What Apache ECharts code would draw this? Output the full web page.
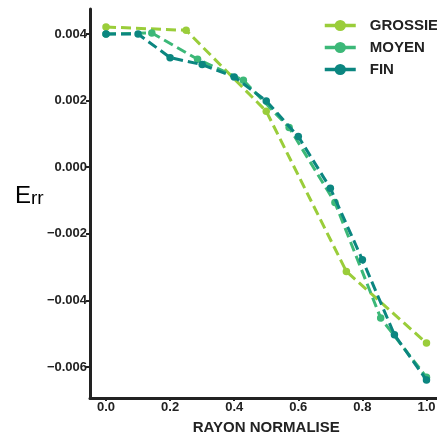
<!DOCTYPE html>
<html>
<head>
<meta charset="utf-8">
<script src="https://cdn.jsdelivr.net/npm/echarts@6/dist/echarts.min.js"></script>
<style>
html,body{margin:0;padding:0;background:#fff;}
#chart{width:437px;height:438px;}
</style>
</head>
<body>
<div id="chart"></div>
<script>
// ---- data ----
const seriesNames = ['GROSSIER', 'MOYEN', 'FIN'];
const xGrossier = [0, 0.25, 0.5, 0.75, 1.0];
const yGrossier = [0.00421, 0.00411, 0.00168, -0.00313, -0.00528];
const xMoyen = [0, 0.1429, 0.2857, 0.4286, 0.5714, 0.7143, 0.8571, 1.0];
const yMoyen = [0.00400, 0.00403, 0.00324, 0.00261, 0.00119, -0.00106, -0.00453, -0.00631];
const xFin = [0, 0.1, 0.2, 0.3, 0.4, 0.5, 0.6, 0.7, 0.8, 0.9, 1.0];
const yFin = [0.00400, 0.00400, 0.00329, 0.00308, 0.00271, 0.00199, 0.00092, -0.00063, -0.00278, -0.00503, -0.00639];
const xTicks = [0, 0.2, 0.4, 0.6, 0.8, 1.0];
const xTickLabels = ['0.0', '0.2', '0.4', '0.6', '0.8', '1.0'];
const yTicks = [-0.006, -0.004, -0.002, 0, 0.002, 0.004];
const yTickLabels = ['\u22120.006', '\u22120.004', '\u22120.002', '0.000', '0.002', '0.004'];
const xTitle = 'RAYON NORMALISE';
const yTitleMain = 'E';
const yTitleRest = 'rr';

const colors = ['#9acd3a', '#3cb878', '#0b8680'];
const pair = (xs, ys) => xs.map((x, i) => [x, ys[i]]);
const dataSets = [pair(xGrossier, yGrossier), pair(xMoyen, yMoyen), pair(xFin, yFin)];

const ink = '#222';
const chart = echarts.init(document.getElementById('chart'), null, {renderer: 'canvas'});
chart.setOption({
  animation: false,
  backgroundColor: '#fff',
  grid: {left: 90, top: 9, width: 352.5, height: 389, containLabel: false, outerBoundsMode: 'none'},
  xAxis: {
    type: 'value', min: -0.05, max: 1.05,
    name: xTitle, nameLocation: 'middle', nameGap: 22,
    nameTextStyle: {fontFamily: 'Liberation Sans', fontWeight: 'bold', fontSize: 15, color: ink},
    axisLine: {show: true, onZero: false, lineStyle: {color: ink, width: 3}},
    axisTick: {show: true, customValues: xTicks, length: 3, lineStyle: {color: ink, width: 2}},
    axisLabel: {customValues: xTicks, margin: 3, fontFamily: 'Liberation Sans', fontWeight: 'bold', fontSize: 13, color: ink,
      formatter: v => { const i = xTicks.findIndex(t => Math.abs(t - v) < 1e-9); return i >= 0 ? xTickLabels[i] : ''; }},
    splitLine: {show: false}
  },
  yAxis: {
    type: 'value', min: -0.00693, max: 0.00475,
    axisLine: {show: true, onZero: false, lineStyle: {color: ink, width: 3}},
    axisTick: {show: true, customValues: yTicks, length: 4, lineStyle: {color: ink, width: 2}},
    axisLabel: {customValues: yTicks, margin: 3, fontFamily: 'Liberation Sans', fontWeight: 'bold', fontSize: 13, color: ink,
      formatter: v => { const i = yTicks.findIndex(t => Math.abs(t - v) < 1e-9); return i >= 0 ? yTickLabels[i] : ''; }},
    splitLine: {show: false}
  },
  legend: {
    orient: 'vertical', left: 318, top: 13,
    itemWidth: 31, itemHeight: 14, itemGap: 7,
    lineStyle: {type: 'solid', width: 3.5},
    textStyle: {fontFamily: 'Liberation Sans', fontWeight: 'bold', fontSize: 15, color: ink, padding: [0, 0, 0, 9]},
    data: seriesNames
  },
  graphic: [{
    type: 'text', left: 15, top: 184,
    style: {
      text: '{a|' + yTitleMain + '}{b|' + yTitleRest + '}',
      rich: {
        a: {fontFamily: 'Liberation Sans Narrow, Liberation Sans', fontSize: 24, color: '#333', verticalAlign: 'bottom', lineHeight: 26},
        b: {fontFamily: 'Liberation Sans Narrow, Liberation Sans', fontSize: 19, color: '#333', verticalAlign: 'bottom', lineHeight: 26}
      }
    }
  }],
  series: seriesNames.map((name, i) => ({
    name, type: 'line', data: dataSets[i],
    symbol: 'circle', symbolSize: 7.5,
    itemStyle: {color: colors[i]},
    lineStyle: {color: colors[i], width: 3, type: [10, 5], cap: 'butt'},
    emphasis: {disabled: true},
    z: 2 + i
  }))
});
</script>
</body>
</html>
